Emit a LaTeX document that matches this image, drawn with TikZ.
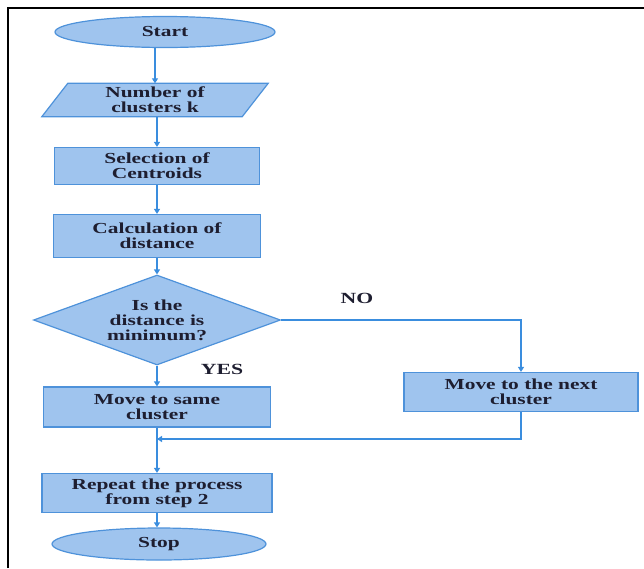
\documentclass[tikz,border=0pt]{standalone}
\usepackage{fontspec}
\setmainfont{Liberation Serif}[FakeStretch=1.4]
\usetikzlibrary{shapes.geometric,arrows.meta,backgrounds}
\definecolor{boxfill}{HTML}{9FC4EE}
\definecolor{boxline}{HTML}{4E92DA}
\definecolor{arrcol}{HTML}{3A8DDE}
\definecolor{txtcol}{HTML}{1E1E30}
\tikzset{
  x=1pt, y=1pt,
  base/.style={font=\fontsize{15.3}{14.8}\selectfont\bfseries, text=txtcol, align=center, inner sep=0pt},
  procbox/.style={base, rectangle, draw=boxline, fill=boxfill, line width=1.2pt},
  termbox/.style={base, ellipse, draw=boxline, fill=boxfill, line width=1.2pt},
  decbox/.style={base, diamond, draw=boxline, fill=boxfill, line width=1.2pt},
  iobox/.style={base},
  conn/.style={draw=arrcol, line width=1.6pt},
  arr/.style={conn, -{Triangle[length=5pt,width=6pt]}},
  lbl/.style={font=\fontsize{15.5}{15.5}\selectfont\bfseries, text=txtcol, inner sep=0pt}
}
\begin{document}
\begin{tikzpicture}
\useasboundingbox (0,0) rectangle (644,-568);
\draw[black, line width=2.6pt] (8,-568) -- (8,-8) -- (644,-8);

\node[termbox, minimum width=220, minimum height=31] (start) at (165,-32) {Start};
\node[iobox, minimum width=200, minimum height=33] (num) at (155,-100) {Number of\\clusters k};
\begin{scope}[on background layer]
\draw[draw=boxline, fill=boxfill, line width=1.2pt]
  ([xshift=-13pt]num.south west) -- ([xshift=-13pt]num.south east)
  -- ([xshift=13pt]num.north east) -- ([xshift=13pt]num.north west) -- cycle;
\end{scope}
\node[procbox, minimum width=205, minimum height=37] (sel) at (157,-166) {Selection of\\Centroids};
\node[procbox, minimum width=207, minimum height=43] (calc) at (157,-236) {Calculation of\\distance};
\node[decbox, minimum width=247, minimum height=90, aspect=2.74] (dec) at (157,-320) {Is the\\distance is\\minimum?};
\node[procbox, minimum width=227, minimum height=40] (same) at (157,-407) {Move to same\\cluster};
\node[procbox, minimum width=234, minimum height=39] (next) at (521,-392) {Move to the next\\cluster};
\coordinate (merge) at (157,-439);
\node[procbox, minimum width=230, minimum height=39] (rep) at (157,-493) {Repeat the process\\from step 2};
\node[termbox, minimum width=214, minimum height=32] (stop) at (159,-544) {Stop};

\node[lbl] (no) at (357,-298) {NO};
\node[lbl] (yes) at (222,-369) {YES};

\draw[arr] (start.south -| num.north) -- (num.north);
\draw[arr] (num.south -| sel.north) -- (sel);
\draw[arr] (sel) -- (calc);
\draw[arr] (calc) -- (dec);
\draw[arr] (dec) -- (same);
\draw[arr] (dec.east) -| (next.north);
\draw[conn] (same.south) -- (merge);
\draw[arr] (merge) -- (rep.north);
\draw[arr] (next.south) |- (merge);
\draw[arr] (rep) -- (stop.north -| rep.south);
\end{tikzpicture}
\end{document}
